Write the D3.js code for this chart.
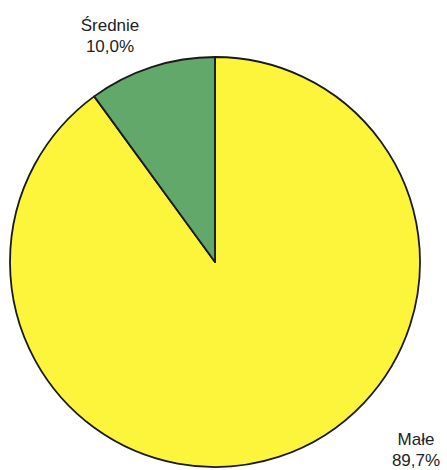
<!DOCTYPE html>
<html><head><meta charset="utf-8">
<script src="https://cdn.jsdelivr.net/npm/d3@7"></script>
<style>body{margin:0;background:#fff}</style>
</head><body>
<svg id="c" width="447" height="470"></svg>
<script>
const categories = ["Małe", "Średnie"];
const values = [89.7, 10.0];
const valueLabels = ["89,7%", "10,0%"];
const colors = ["#fcf53c", "#62a86a"];

const svg = d3.select("#c");
const cx = 215, cy = 262, r = 205;
const g = svg.append("g").attr("transform", `translate(${cx},${cy})`);
const pie = d3.pie().sort(null).value(d => d.v);
const data = categories.map((c, i) => ({c, v: values[i], l: valueLabels[i], col: colors[i]}));
const arcs = pie(data);
const arc = d3.arc().innerRadius(0).outerRadius(r);
g.selectAll("path").data(arcs).join("path")
  .attr("d", arc)
  .attr("fill", d => d.data.col)
  .attr("stroke", "#1a1a1a")
  .attr("stroke-width", 1.8)
  .attr("stroke-linejoin", "round");

const labelPos = {"Małe": [416, 445], "Średnie": [110, 31]};
data.forEach(d => {
  const [x, y] = labelPos[d.c];
  const t = svg.append("text").attr("x", x).attr("y", y)
    .attr("text-anchor", "middle")
    .attr("font-family", "Liberation Sans, Arial, sans-serif")
    .attr("font-size", 17).attr("fill", "#222");
  t.append("tspan").attr("x", x).attr("dy", 0).text(d.c);
  t.append("tspan").attr("x", x).attr("dy", 21).text(d.l);
});
</script>
</body></html>
